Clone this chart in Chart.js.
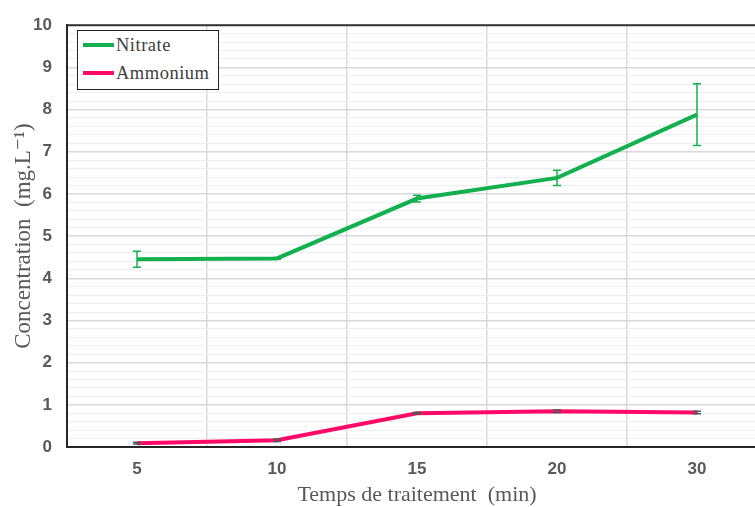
<!DOCTYPE html>
<html>
<head>
<meta charset="utf-8">
<script src="https://cdn.jsdelivr.net/npm/chart.js@4"></script>
<style>
  html, body { margin: 0; padding: 0; background: #fff; overflow: hidden; }
  #wrap { position: relative; width: 775px; height: 507px; }
  #legend {
    position: absolute; left: 77px; top: 30px; width: 142px; height: 60px;
    border: 1.5px solid #222; background: #fff;
    font-family: "Liberation Serif", "DejaVu Serif", serif; font-size: 18.5px; color: #404040;
    box-sizing: border-box; padding: 0 0 0 5px;
  }
  .item { display: flex; align-items: center; height: 28px; letter-spacing: 0.5px; }
  .swatch { width: 31px; height: 4px; margin-right: 2px; }
</style>
</head>
<body>
<div id="wrap">
  <canvas id="c"></canvas>
  <div id="legend"></div>
</div>
<script>
const categories = ['5', '10', '15', '20', '30'];
const nitrate = [4.45, 4.47, 5.89, 6.38, 7.88];
const nitrateErr = [0.19, 0.02, 0.08, 0.18, 0.73];
const ammonium = [0.09, 0.16, 0.8, 0.85, 0.82];
const ammoniumErr = [0.02, 0.03, 0.02, 0.03, 0.03];

const green = '#14b04f';
const pink = '#ff0a67';

// error bars drawn from the scales
const errorBars = {
  id: 'errorBars',
  afterDatasetsDraw(chart) {
    const ctx = chart.ctx;
    const y = chart.scales.y;
    chart.data.datasets.forEach((ds, i) => {
      const meta = chart.getDatasetMeta(i);
      ctx.save();
      ctx.strokeStyle = ds.errColor;
      ctx.lineWidth = 1.5;
      meta.data.forEach((pt, j) => {
        const e = ds.errors[j];
        const top = y.getPixelForValue(ds.data[j] + e);
        const bot = y.getPixelForValue(ds.data[j] - e);
        ctx.beginPath();
        ctx.moveTo(pt.x, top); ctx.lineTo(pt.x, bot);
        ctx.moveTo(pt.x - 4, top); ctx.lineTo(pt.x + 4, top);
        ctx.moveTo(pt.x - 4, bot); ctx.lineTo(pt.x + 4, bot);
        ctx.stroke();
      });
      ctx.restore();
    });
    // top frame line
    const a = chart.chartArea;
    ctx.save();
    ctx.strokeStyle = '#333';
    ctx.lineWidth = 2;
    ctx.beginPath();
    ctx.moveTo(a.left, a.top); ctx.lineTo(a.right, a.top);
    ctx.stroke();
    ctx.restore();
  }
};

const isMajor = v => Math.abs(v - Math.round(v)) < 1e-6;

const chart = new Chart(document.getElementById('c'), {
  type: 'line',
  data: {
    labels: categories,
    datasets: [
      { label: 'Nitrate', data: nitrate, errors: nitrateErr, errColor: green,
        borderColor: green, backgroundColor: green, borderWidth: 4, pointRadius: 0, tension: 0 },
      { label: 'Ammonium', data: ammonium, errors: ammoniumErr, errColor: '#555',
        borderColor: pink, backgroundColor: pink, borderWidth: 4, pointRadius: 0, tension: 0 }
    ]
  },
  options: {
    responsive: true, maintainAspectRatio: false, animation: false,
    layout: { padding: { left: 8, top: 22, right: 8, bottom: 0 } },
    plugins: { legend: { display: false }, tooltip: { enabled: false } },
    scales: {
      x: {
        offset: true,
        afterFit: s => { s.height = 60; },
        grid: { offset: true, color: '#d9d9d9', lineWidth: 1.5, drawTicks: false },
        border: { color: '#262626', width: 2 },
        ticks: { color: '#595959', padding: 12, font: { family: 'Liberation Sans, Arial', size: 17, weight: 'bold' } },
        title: { display: true, text: 'Temps de traitement  (min)', color: '#595959', padding: { top: 4, bottom: 1 },
          font: { family: 'Liberation Serif, DejaVu Serif, serif', size: 22, lineHeight: 1 } }
      },
      y: {
        min: 0, max: 10,
        afterFit: s => { s.width = 59; },
        grid: {
          drawTicks: false,
          color: c => isMajor(c.tick.value) ? '#d9d9d9' : '#eeeeee',
          lineWidth: c => isMajor(c.tick.value) ? 1.5 : 1
        },
        border: { color: '#262626', width: 2 },
        ticks: {
          stepSize: 0.2, autoSkip: false, padding: 15, color: '#595959',
          font: { family: 'Liberation Sans, Arial', size: 17, weight: 'bold' },
          callback: v => isMajor(v) ? String(Math.round(v)) : ''
        },
        title: { display: true, text: 'Concentration  (mg.L⁻¹)', color: '#595959', padding: { top: 2, bottom: 2 },
          font: { family: 'Liberation Serif, DejaVu Serif, serif', size: 23 } }
      }
    }
  },
  plugins: [errorBars]
});

// legend built from the datasets
document.getElementById('legend').innerHTML = chart.data.datasets.map(d =>
  `<div class="item"><span class="swatch" style="background:${d.borderColor}"></span>${d.label}</div>`
).join('');
</script>
</body>
</html>
